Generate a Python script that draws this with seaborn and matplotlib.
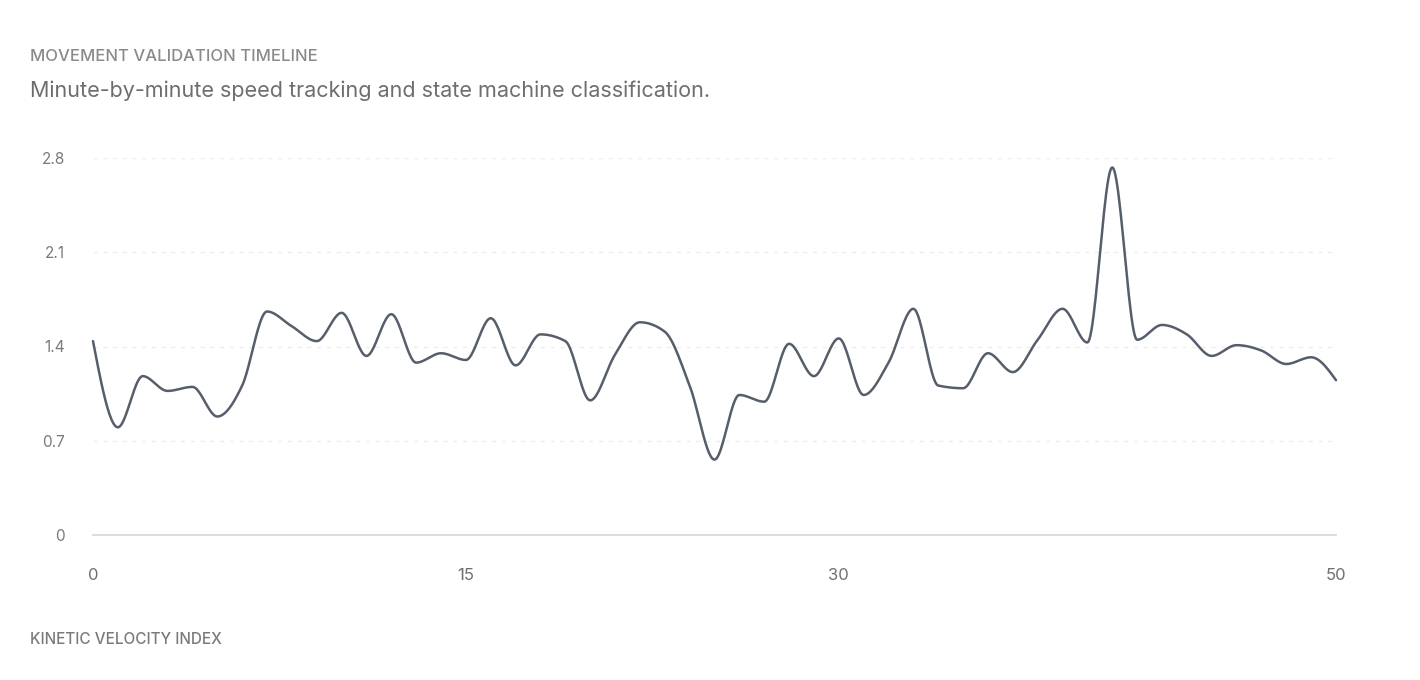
import numpy as np
import pandas as pd
import matplotlib
matplotlib.use("Agg")
import matplotlib.pyplot as plt
import seaborn as sns

# Data (one value per minute)
minutes = list(range(0, 51))
speed = [1.44, 0.80, 1.18, 1.07, 1.10, 0.88, 1.11, 1.66, 1.55, 1.44,
         1.65, 1.33, 1.64, 1.28, 1.35, 1.30, 1.61, 1.26, 1.49, 1.44,
         1.00, 1.34, 1.58, 1.51, 1.11, 0.56, 1.04, 0.99, 1.42, 1.18,
         1.46, 1.04, 1.28, 1.68, 1.11, 1.09, 1.35, 1.21, 1.45, 1.68,
         1.43, 2.73, 1.45, 1.56, 1.49, 1.33, 1.41, 1.37, 1.27, 1.32,
         1.15]
x_ticks = [0, 15, 30, 50]
y_ticks = [0, 0.7, 1.4, 2.1, 2.8]
y_tick_labels = ["0", "0.7", "1.4", "2.1", "2.8"]

title = "MOVEMENT VALIDATION TIMELINE"
subtitle = "Minute-by-minute speed tracking and state machine classification."
axis_caption = "KINETIC VELOCITY INDEX"


def monotone_curve(x, y, n=24):
    # monotone cubic (d3 curveMonotoneX style) for the drawn line shape
    x = np.asarray(x, float)
    y = np.asarray(y, float)
    h = np.diff(x)
    s = np.diff(y) / h
    t = np.zeros_like(y)
    for i in range(1, len(y) - 1):
        p = (s[i - 1] * h[i] + s[i] * h[i - 1]) / (h[i - 1] + h[i])
        t[i] = (np.sign(s[i - 1]) + np.sign(s[i])) * min(abs(s[i - 1]), abs(s[i]), 0.5 * abs(p))
    t[0] = (3 * s[0] - t[1]) / 2
    t[-1] = (3 * s[-1] - t[-2]) / 2
    xs, ys = [], []
    u = np.linspace(0, 1, n, endpoint=False)
    for i in range(len(x) - 1):
        h00 = 2 * u**3 - 3 * u**2 + 1
        h10 = u**3 - 2 * u**2 + u
        h01 = -2 * u**3 + 3 * u**2
        h11 = u**3 - u**2
        xs.append(x[i] + u * h[i])
        ys.append(h00 * y[i] + h10 * h[i] * t[i] + h01 * y[i + 1] + h11 * h[i] * t[i + 1])
    xs.append([x[-1]])
    ys.append([y[-1]])
    return np.concatenate(xs), np.concatenate(ys)


sx, sy = monotone_curve(minutes, speed)
curve = pd.DataFrame({"minute": sx, "speed": sy})

sns.set_theme(style="white")
plt.rcParams["font.family"] = ["Inter", "DejaVu Sans"]

W, H = 1420, 680
fig = plt.figure(figsize=(W / 100, H / 100), dpi=100)
left, right, top, bottom = 93, 1336, 158, 535
ax = fig.add_axes([left / W, 1 - bottom / H, (right - left) / W, (bottom - top) / H])

sns.lineplot(data=curve, x="minute", y="speed", ax=ax, color="#565e6c",
             linewidth=1.8, sort=False, estimator=None)
for ln in ax.get_lines():
    ln.set_clip_on(False)

ax.set_xlim(0, 50)
ax.set_ylim(0, 2.8)
ax.set_xticks(x_ticks)
ax.set_xticklabels([str(v) for v in x_ticks])
ax.set_yticks(y_ticks)
ax.set_yticklabels(y_tick_labels)
ax.set_xlabel("")
ax.set_ylabel("")

for v in y_ticks[1:]:
    ax.axhline(v, color="#eeeeee", linewidth=1, linestyle=(0, (3, 4)), zorder=0)

for side in ["top", "right", "left"]:
    ax.spines[side].set_visible(False)
ax.spines["bottom"].set_color("#d6d6d6")
ax.spines["bottom"].set_linewidth(1.2)

ax.tick_params(axis="x", length=0, pad=24, labelsize=12, labelcolor="#6f6f6f")
ax.tick_params(axis="y", length=0, pad=20, labelsize=11, labelcolor="#7a7a7a")

fig.text(30 / W, 1 - 61 / H, title, fontsize=12, color="#8a8a8a",
         ha="left", va="baseline", fontweight="medium")
fig.text(30 / W, 1 - 97 / H, subtitle, fontsize=15.5, color="#6e6e6e",
         ha="left", va="baseline")
fig.text(30 / W, 1 - 644 / H, axis_caption, fontsize=11, color="#7a7a7a",
         ha="left", va="baseline", fontweight="medium")

fig.savefig("out.png", dpi=100, facecolor="white")
